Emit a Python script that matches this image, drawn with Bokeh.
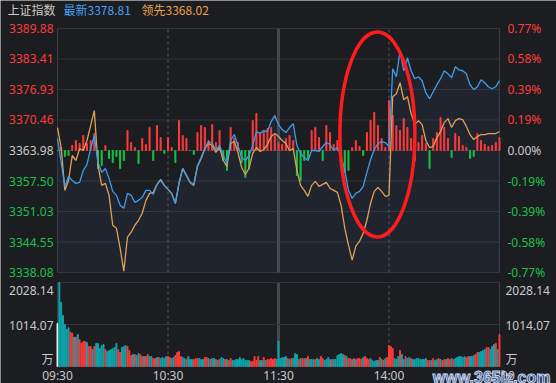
from bokeh.plotting import figure
from bokeh.models import Range1d
from bokeh.embed import file_html
from bokeh.resources import INLINE
from bokeh.core.properties import value

# ---------------- data ----------------
index_name = "上证指数"
latest_name = "最新"
latest_last = "3378.81"
lead_name = "领先"
lead_last = "3368.02"
pre_close = 3363.98

price_ticks = [3389.88, 3383.41, 3376.93, 3370.46, 3363.98, 3357.50, 3351.03, 3344.55, 3338.08]
pct_labels = ["0.77%", "0.58%", "0.39%", "0.19%", "0.00%", "-0.19%", "-0.39%", "-0.58%", "-0.77%"]
vol_ticks = [2028.14, 1014.07]
vol_unit = "万"
time_labels = ["09:30", "10:30", "11:30", "14:00", "15:00"]
time_minutes = [0, 60, 120, 180, 240]

# every 2 trading minutes (0..240)
line_minutes = list(range(0, 241, 2))
latest = [
    3366.52, 3361.44, 3356.36, 3358.48, 3357.63, 3357.00, 3357.21, 3359.75, 3361.02, 3364.40,
    3367.15, 3361.44, 3359.33, 3360.17, 3358.06, 3355.30, 3354.46, 3352.34, 3351.71, 3354.88,
    3354.46, 3352.98, 3353.40, 3354.03, 3355.52, 3355.52, 3354.67, 3356.79, 3357.63, 3356.57,
    3355.73, 3354.88, 3352.77, 3357.21, 3360.17, 3358.69, 3357.21, 3356.79, 3360.81, 3362.50,
    3364.40, 3365.88, 3365.46, 3363.98, 3365.04, 3362.92, 3361.23, 3366.10, 3367.37, 3365.04,
    3362.50, 3361.86, 3362.92, 3365.04, 3368.00, 3367.58, 3368.21, 3368.00, 3370.12, 3371.39,
    3369.48, 3368.42, 3367.79, 3368.85, 3369.69, 3365.04, 3363.35, 3362.50, 3361.86, 3363.98,
    3363.98, 3363.77, 3364.83, 3365.67, 3365.25, 3363.98, 3364.61, 3362.71, 3359.75, 3355.52,
    3353.82, 3354.88, 3355.30, 3356.36, 3359.33, 3362.08, 3364.19, 3365.46, 3365.88, 3365.67,
    3364.83, 3381.33, 3379.64, 3385.14, 3380.91, 3383.66, 3380.91, 3379.22, 3379.64, 3378.79,
    3376.25, 3374.98, 3376.46, 3377.95, 3379.22, 3380.91, 3380.27, 3379.43, 3381.75, 3381.12,
    3380.91, 3380.27, 3377.95, 3376.89, 3377.52, 3379.00, 3378.37, 3377.52, 3377.10, 3377.52,
    3378.81]
leading = [
    3368.85, 3364.61, 3355.52, 3357.63, 3362.92, 3361.86, 3364.40, 3363.98, 3366.10, 3369.27,
    3372.44, 3360.81, 3356.57, 3357.00, 3354.46, 3348.11, 3347.48, 3343.24, 3338.38, 3345.57,
    3346.63, 3348.11, 3349.17, 3350.65, 3353.40, 3354.88, 3355.09, 3356.79, 3357.84, 3356.57,
    3355.73, 3354.88, 3352.77, 3357.00, 3360.17, 3358.69, 3357.21, 3356.57, 3360.60, 3362.29,
    3364.40, 3365.46, 3365.04, 3363.56, 3364.61, 3361.86, 3360.60, 3365.46, 3365.88, 3363.56,
    3360.38, 3358.90, 3360.17, 3363.35, 3364.61, 3363.77, 3364.19, 3365.25, 3366.94, 3367.58,
    3366.94, 3366.10, 3365.46, 3363.98, 3364.40, 3359.75, 3356.57, 3355.52, 3354.25, 3356.57,
    3357.42, 3356.36, 3356.79, 3357.21, 3355.94, 3355.52, 3355.09, 3352.34, 3347.48, 3343.88,
    3340.70, 3343.67, 3344.72, 3346.42, 3349.17, 3352.77, 3355.30, 3356.15, 3355.30, 3354.25,
    3354.46, 3375.41, 3376.04, 3378.37, 3374.77, 3375.41, 3371.81, 3369.48, 3370.33, 3369.48,
    3366.10, 3364.61, 3364.83, 3366.73, 3368.00, 3369.90, 3370.75, 3368.85, 3370.33, 3370.75,
    3370.54, 3369.06, 3367.37, 3366.31, 3366.94, 3367.37, 3367.37, 3367.58, 3367.58, 3367.58,
    3368.02]
# buying / selling strength bars (arbitrary units, + red, - green)
power = [
    0, 3, -6, -5, 5, 10, 7, 15, 7, 10,
    17, -18, -15, 5, -8, -12, -6, -18, -10, 20,
    8, 3, -13, 12, 6, 23, -10, 25, 13, -3,
    13, 3, -12, 30, 15, 12, 0, -4, 18, 25,
    23, 10, 26, 8, 20, -10, -20, 23, 12, 8,
    -12, -27, -18, 30, 37, 18, 20, 22, 23, 15,
    8, 6, 12, 15, 10, -25, -30, -10, -8, 20,
    23, 13, -10, 25, 18, 6, 10, -15, -22, -20,
    3, 10, 4, -5, 18, 30, 38, 25, 12, 3,
    50, 35, 25, 20, 32, 23, 12, -10, 8, 15,
    7, -18, 12, 18, 33, 23, 12, -7, 17, 14,
    5, 3, -8, -6, 17, 10, 6, 4, 5, 8,
    13]
power_span = 122

# volume per minute (万), direction: 1 up, -1 down, 0 call auction
vol_minutes = list(range(241))
volume = [
    1040, 2028, 1552, 1231, 1014, 893, 934, 829, 805, 708,
    708, 772, 644, 563, 603, 603, 579, 483, 483, 410,
    483, 555, 555, 434, 507, 531, 410, 362, 386, 410,
    434, 459, 555, 410, 338, 458, 483, 507, 483, 386,
    265, 290, 290, 265, 314, 290, 241, 241, 241, 290,
    241, 241, 193, 193, 217, 217, 193, 217, 193, 241,
    241, 217, 193, 217, 265, 338, 362, 241, 217, 193,
    169, 241, 169, 169, 169, 193, 193, 193, 169, 169,
    217, 217, 193, 169, 193, 193, 169, 145, 169, 217,
    193, 169, 169, 145, 193, 145, 145, 169, 169, 217,
    169, 193, 145, 145, 145, 121, 121, 241, 145, 241,
    145, 145, 217, 145, 169, 169, 193, 169, 193, 169,
    611,
    193, 217, 217, 241, 193, 169, 193, 193, 314, 290,
    169, 193, 193, 193, 193, 241, 169, 169, 169, 169,
    193, 169, 241, 193, 145, 169, 217, 169, 169, 169,
    169, 265, 290, 314, 290, 265, 241, 193, 193, 169,
    193, 169, 193, 193, 169, 217, 241, 193, 169, 193,
    145, 121, 145, 145, 217, 169, 145, 193, 217, 507,
    483, 434, 193, 169, 241, 386, 290, 169, 241, 193,
    217, 193, 169, 169, 193, 193, 169, 169, 169, 193,
    145, 145, 145, 193, 145, 169, 193, 169, 145, 169,
    169, 193, 169, 193, 169, 193, 217, 241, 241, 217,
    241, 217, 241, 241, 241, 265, 290, 338, 338, 362,
    386, 410, 458, 458, 410, 483, 531, 555, 410, 772]
vol_dir = [
    0, -1, -1, -1, -1, -1, -1, 1, 1, -1,
    1, -1, 1, 1, 1, 1, -1, 1, 1, -1,
    1, -1, -1, -1, -1, -1, 1, -1, -1, -1,
    -1, -1, -1, 1, 1, -1, -1, -1, 1, 1,
    1, -1, 1, -1, -1, 1, 1, -1, 1, 1,
    -1, -1, 1, 1, -1, 1, -1, -1, -1, -1,
    1, 1, -1, -1, 1, 1, 1, 1, -1, -1,
    1, -1, -1, -1, 1, 1, 1, -1, -1, -1,
    1, 1, -1, 1, -1, -1, 1, -1, 1, -1,
    -1, 1, -1, 1, 1, -1, -1, -1, -1, -1,
    -1, -1, -1, -1, -1, 1, 1, 1, 1, 1,
    -1, -1, 1, -1, 1, 1, 1, 1, 1, -1,
    -1,
    -1, -1, -1, -1, 1, -1, 1, -1, -1, -1,
    1, -1, 1, 1, -1, 1, -1, -1, -1, 1,
    -1, -1, 1, 1, -1, -1, -1, -1, 1, -1,
    -1, -1, -1, -1, -1, 1, -1, 1, 1, -1,
    1, -1, 1, 1, 1, -1, 1, 1, 1, -1,
    -1, -1, -1, -1, 1, -1, 1, -1, 1, 1,
    1, 1, -1, -1, -1, 1, -1, -1, 1, -1,
    -1, 1, -1, -1, -1, -1, -1, -1, -1, -1,
    1, 1, -1, 1, -1, -1, 1, -1, 1, 1,
    -1, 1, 1, -1, 1, -1, -1, -1, -1, -1,
    -1, 1, 1, -1, -1, -1, 1, 1, -1, -1,
    -1, -1, 1, 1, -1, -1, -1, 1, -1, 1]

# annotation: red ring around the 14:00 jump (centre in minute / price)
ring_minute = 173.7
ring_price = 3367.4
watermark = "www.365jz.com"

# ---------------- style / geometry ----------------
BG = "#1c1d21"
GRID = "#313338"
FRAME = "#3a3c41"
RED = "#ff3b3b"
GREEN = "#17c442"
TEAL = "#0da6ad"
BLUE = "#3f9ce9"
ORANGE = "#dfa152"
GRAY = "#c9c9c9"
LBL_RED = "#ff3a3a"
LBL_GREEN = "#1bc24a"
NUM_FONT = value("Noto Sans")
CJK_FONT = value("Noto Sans CJK SC")

W, H = 556, 383
PX_L, PX_R = 57, 499          # plot area, left/right (px)
TOP_T, TOP_B = 28, 272        # price panel top/bottom (px)
VOL_T, VOL_B = 282, 366       # volume panel top/bottom (px)

t0, t1 = time_minutes[0], time_minutes[-1]
pmax, pmin = price_ticks[0], price_ticks[-1]
vmax = vol_ticks[0]
mpp = (t1 - t0) / (PX_R - PX_L)
ppp = (pmax - pmin) / (TOP_B - TOP_T)
vpp = vmax / (VOL_B - VOL_T)


def xm(px):
    return t0 + (px - PX_L) * mpp


def yp(py):
    return pmax - (py - TOP_T) * ppp


def yv(py):
    return vmax - (py - VOL_T) * vpp


p = figure(width=W, height=H, output_backend="svg", toolbar_location=None,
           x_range=Range1d(xm(0), xm(W)), y_range=Range1d(yp(H), yp(0)),
           x_axis_location=None, y_axis_location=None,
           min_border=0, min_border_left=0, min_border_right=0, min_border_top=0, min_border_bottom=0,
           background_fill_color=BG, border_fill_color=BG, outline_line_color=None)
p.grid.visible = False
# power bars: zero line at the pre-close level, power_span units = half the price panel
half = (TOP_B - TOP_T) / 2
zero_py = TOP_T + half
p.extra_y_ranges = {"vol": Range1d(yv(H), yv(0)),
                    "power": Range1d(-power_span * (H - zero_py) / half, power_span * zero_py / half)}

# ---- price panel grid / frame ----
p.segment(x0=t0, x1=t1, y0=price_ticks, y1=price_ticks, line_color=GRID, line_width=1)
p.segment(x0=[t0, t1], x1=[t0, t1], y0=pmin, y1=pmax, line_color=FRAME, line_width=1)
for m in time_minutes[1:4]:
    if m == 120:
        p.segment(x0=m, x1=m, y0=pmin, y1=pmax, line_color="#45474c", line_width=3)
        p.segment(x0=m, x1=m, y0=0, y1=vmax, line_color="#45474c", line_width=3, y_range_name="vol")
    else:
        p.segment(x0=m, x1=m, y0=pmin, y1=pmax, line_color="#56585d", line_width=1, line_dash="3 3")
        p.segment(x0=m, x1=m, y0=0, y1=vmax, line_color="#56585d", line_width=1, line_dash="3 3",
                  y_range_name="vol")

# ---- volume panel grid / frame ----
p.segment(x0=t0, x1=t1, y0=[0, vol_ticks[1], vol_ticks[0]], y1=[0, vol_ticks[1], vol_ticks[0]],
          line_color=GRID, line_width=1, y_range_name="vol")
p.segment(x0=[t0, t1], x1=[t0, t1], y0=0, y1=vmax, line_color=FRAME, line_width=1, y_range_name="vol")

# ---- price panel data ----
p.varea(x=line_minutes, y1=latest, y2=pmin, fill_color="#3c64a0", fill_alpha=0.11)
power_colors = [RED if v > 0 else GREEN for v in power]
p.vbar(x=line_minutes, top=power, bottom=0, width=0.55, color=power_colors, y_range_name="power")
p.line(line_minutes, leading, line_color=ORANGE, line_width=1.3)
p.line(line_minutes, latest, line_color=BLUE, line_width=1.3)

p.ellipse(x=[ring_minute], y=[ring_price], width=75, height=205,
          width_units="screen", height_units="screen",
          fill_alpha=0, line_color="#ff1c1c", line_width=3.5)

# ---- volume data ----
vol_colors = [RED if d > 0 else (TEAL if d < 0 else "#f2f2f2") for d in vol_dir]
p.vbar(x=vol_minutes, top=volume, bottom=0, width=0.5, color=vol_colors, y_range_name="vol")

# ---- texts ----
label_colors = [LBL_RED if t > pre_close else (LBL_GREEN if t < pre_close else GRAY) for t in price_ticks]
p.text(x=xm(53), y=price_ticks, text=["%.2f" % t for t in price_ticks], text_color=label_colors,
       text_align="right", text_baseline="middle", text_font=NUM_FONT, text_font_size="12px")
p.text(x=xm(507), y=price_ticks, text=pct_labels, text_color=label_colors,
       text_align="left", text_baseline="middle", text_font=NUM_FONT, text_font_size="12px")

hy = yp(9)
p.text(x=[xm(7)], y=[hy], text=[index_name], text_color="#cfc9c1", text_align="left",
       text_baseline="middle", text_font=CJK_FONT, text_font_size="12px")
p.text(x=[xm(63)], y=[hy], text=[latest_name + latest_last], text_color="#46a2f2", text_align="left",
       text_baseline="middle", text_font=CJK_FONT, text_font_size="12px")
p.text(x=[xm(141)], y=[hy], text=[lead_name + lead_last], text_color="#eaa24a", text_align="left",
       text_baseline="middle", text_font=CJK_FONT, text_font_size="12px")

vol_text = ["%.2f" % vol_ticks[0], "%.2f" % vol_ticks[1]]
vol_text_y = [yv(290), yv(325)]
for xs, align in ((xm(53), "right"), (xm(505), "left")):
    p.text(x=xs, y=vol_text_y, text=vol_text, text_color=GRAY, text_align=align,
           text_baseline="middle", text_font=NUM_FONT, text_font_size="12px", y_range_name="vol")
    p.text(x=[xs], y=[yv(358)], text=[vol_unit], text_color=GRAY, text_align=align,
           text_baseline="middle", text_font=CJK_FONT, text_font_size="12px", y_range_name="vol")

p.text(x=time_minutes, y=yv(375), text=time_labels, text_color=GRAY, text_align="center",
       text_baseline="middle", text_font=NUM_FONT, text_font_size="12px", y_range_name="vol")

p.text(x=[xm(550)], y=[yv(377)], text=[watermark], text_color="#23509a",
       text_outline_color="#c9d4ea", text_align="right", text_baseline="alphabetic",
       text_font=value("Liberation Sans"), text_font_style="bold", text_font_size="16px",
       y_range_name="vol")

open("out.html", "w").write(file_html(p, INLINE))
